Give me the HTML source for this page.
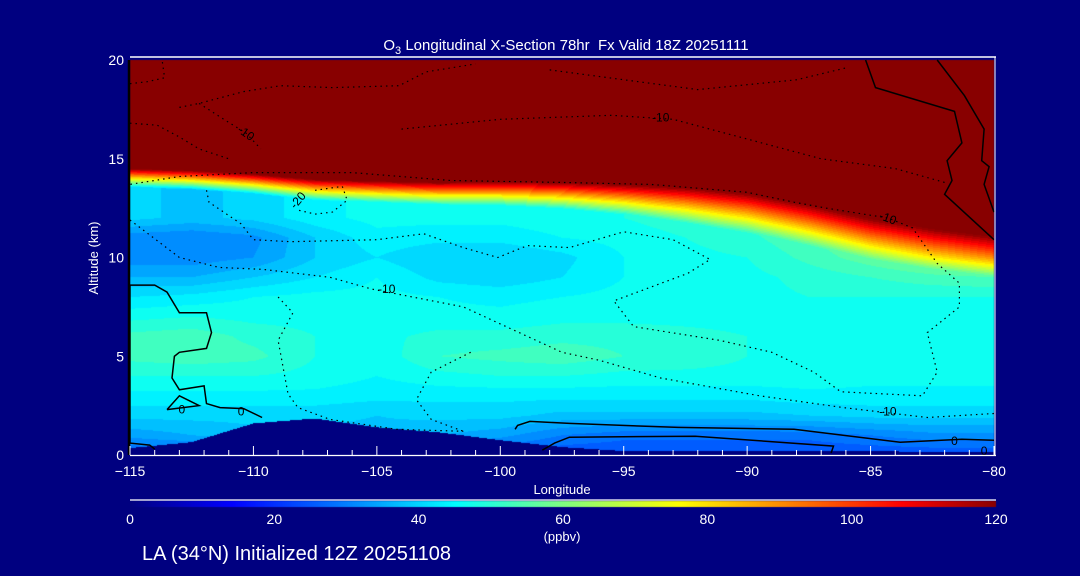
<!DOCTYPE html>
<html><head><meta charset="utf-8"><style>
body{margin:0;background:#000080;width:1080px;height:576px;overflow:hidden;position:relative;font-family:"Liberation Sans",sans-serif;}
canvas,svg{position:absolute;left:0;top:0;}
</style></head><body>
<canvas id="field" width="1080" height="576"></canvas>
<svg id="ov" width="1080" height="576"></svg>
<script>
// ---- data ----
const lons=[-115,-112.5,-110,-107.5,-105,-102.5,-100,-97.5,-95,-92.5,-90,-87.5,-85,-82.5,-80];
const alts=[0,1,2,3,4,5,6,7,8,9,10,11,12];
const grid=[
[26,26,28,30,30,30,26,24,24,24,24,24,24,24,24],
[34,36,38,38,38,36,34,30,28,28,28,28,30,32,32],
[40,40,40,40,39,40,40,38,38,38,38,39,40,40,40],
[44,44,44,44,43,43,43,43,43,43,43,44,44,44,44],
[48,48,48,47,45,47,48,48,47,47,47,47,46,46,46],
[52,53,52,48,46,51,52,53,51,50,48,48,47,46,46],
[52,53,50,48,47,49,49,50,50,49,48,47,47,46,46],
[47,48,47,47,46,46,46,47,47,47,47,47,47,47,47],
[42,43,45,46,46,45,44,45,46,47,47,48,48,48,48],
[36,36,39,42,45,41,40,42,45,47,47,49,51,53,54],
[31,31,33,39,42,39,39,41,45,47,48,52,56,60,62],
[31,30,32,39,44,43,43,45,46,48,50,54,58,62,64],
[40,38,40,44,46,46,46,47,48,50,52,56,60,62,64]];
const tropo=[14.0,13.9,13.7,13.4,13.3,13.2,13.2,13.1,12.9,12.6,12.2,11.6,10.9,10.4,10.0];
const tropoWidth=[1.0,1.0,1.05,1.1,1.15,1.2,1.3,1.4,1.6,1.9,2.1,2.2,2.2,2.2,2.2];
const terrain=[0.35,0.65,1.6,1.85,1.4,1.15,0.75,0.4,0.2,0.2,0.2,0.2,0.2,0.15,0.15];
const cmapVals=[0,14,30,45,60,76,107,120];
const cmapCols=[[0,0,128],[0,0,255],[0,128,255],[0,255,255],[128,255,128],[255,255,0],[255,0,0],[136,0,0]];
const xTicks=[-115,-110,-105,-100,-95,-90,-85,-80];
const yTicks=[0,5,10,15,20];
const cbTicks=[0,20,40,60,80,100,120];
const contoursSolid=[
[[-115,8.6],[-114.0,8.6],[-113.5,8.25],[-113.0,7.2],[-111.9,7.2],[-111.7,6.2],[-111.9,5.4],[-113.0,5.2],[-113.2,5.0],[-113.3,3.9],[-113.0,3.3],[-112.0,3.5],[-111.9,2.6],[-111.35,2.4],[-110.4,2.35],[-109.65,1.9]],
[[-113.5,2.3],[-113.0,3.0],[-112.2,2.5],[-113.5,2.3]],
[[-115,8.6],[-115,0.6],[-114.2,0.5],[-114.0,0.3]],
[[-99.4,1.3],[-99.3,1.5],[-98.8,1.7],[-97.2,1.6],[-92.8,1.4],[-88.1,1.3],[-83.8,0.65],[-81.3,0.8],[-80,0.75]],
[[-98.3,0.25],[-97.8,0.6],[-97.2,0.9],[-92.1,0.95],[-86.5,0.45],[-86.6,0.1]],
[[-85.2,20],[-84.8,18.6],[-81.6,17.4],[-81.3,15.8],[-81.9,14.9],[-81.7,13.9],[-82.0,13.2],[-80,10.9]],
[[-82.3,20],[-81.2,18.2],[-80.4,16.5],[-80.5,14.9],[-80.2,14.6],[-80.4,13.7],[-80,12.3]]];
const contoursDotted=[
[[-115,11.9],[-113.0,10.0],[-111.4,9.5],[-109.6,9.4],[-106.9,9.0],[-105.2,8.4],[-101.5,7.5],[-97.5,5.2],[-96.0,4.8],[-93.5,3.9],[-89.5,3.0],[-86.1,2.4],[-82.7,1.9],[-80.0,2.1]],
[[-111.9,13.4],[-111.8,12.8],[-110.5,11.7],[-110.0,10.9],[-108.5,10.8],[-105.0,10.9],[-103.1,11.2],[-101.5,10.5],[-100.1,10.0],[-98.9,10.6],[-97.2,10.5],[-95.0,11.3],[-93.0,10.9],[-91.5,9.9],[-92.4,9.2],[-95.4,7.8],[-94.6,6.5],[-91.1,5.8],[-89.0,5.2],[-87.3,4.2],[-86.2,3.2],[-82.9,3.0],[-82.3,4.2],[-82.7,6.2],[-81.4,7.5],[-81.4,8.7],[-82.3,9.7],[-83.3,11.5],[-84.3,12.0],[-86.8,12.5],[-88.1,12.8],[-90.0,13.3],[-93.9,13.7],[-97.6,13.8],[-102,13.9],[-106,14.3],[-110,14.3],[-113,14.1],[-115,13.7]],
[[-109.0,8.0],[-108.4,7.2],[-109.0,5.8],[-108.6,3.1],[-108.2,2.4],[-106.9,1.8],[-104.2,1.3],[-101.5,1.2]],
[[-101.2,5.2],[-102.8,4.2],[-103.4,2.8],[-102.8,1.8],[-101.5,1.2]],
[[-115,18.8],[-114.3,18.9],[-113.6,19.1],[-113.7,20]],
[[-113.0,17.6],[-112.2,17.8],[-110.4,18.4],[-108.9,18.7],[-106.8,18.6],[-104.1,18.7],[-103.0,19.4],[-101,19.8]],
[[-112.2,17.8],[-111.2,17.0],[-110.3,16.3],[-109.7,15.5]],
[[-115,16.8],[-113.9,16.7],[-113.0,16.1],[-112.2,15.5],[-111,15.0]],
[[-107.5,13.4],[-106.4,13.6],[-106.2,12.9],[-106.8,12.3],[-107.5,12.2],[-108.2,12.4]],
[[-104,16.5],[-100,17.0],[-95.5,17.2],[-93,17.0],[-90,16.0],[-87,15.0],[-84,14.5],[-82,13.8]],
[[-98,19.5],[-92,18.5],[-88,19.0],[-86,19.6]]];
const contourLabels=[["-10",-110.3,16.3,35],["-10",-93.5,17.1,0],["-20",-108.2,12.9,-50],["-10",-104.6,8.4,0],["-10",-84.3,12.0,20],["-10",-84.3,2.2,0],["0",-112.9,2.3,0],["0",-110.5,2.2,0],["0",-81.6,0.7,0],["0",-80.4,0.2,0]];
// ---- scales ----
const X0=130,X1=994,Y0=455,Y1=60;
const xs=l=>X0+(l+115)/35*(X1-X0);
const ys=a=>Y0-a/20*(Y0-Y1);
function cmap(v){v=Math.max(0,Math.min(120,v));
 for(let i=0;i<cmapVals.length-1;i++){if(v<=cmapVals[i+1]){const t=(v-cmapVals[i])/(cmapVals[i+1]-cmapVals[i]);
 return cmapCols[i].map((c,k)=>Math.round(c+(cmapCols[i+1][k]-c)*t));}}return cmapCols[7];}
function lerpArr(arr,l){const f=(l+115)/2.5;let i=Math.floor(f);if(i>=arr.length-1)i=arr.length-2;if(i<0)i=0;const t=f-i;return arr[i]*(1-t)+arr[i+1]*t;}
function baseVal(l,a){const f=(l+115)/2.5;let i=Math.min(Math.max(Math.floor(f),0),lons.length-2);const tx=f-i;
 let aa=Math.min(a,12);let j=Math.min(Math.floor(aa),11);const ty=aa-j;
 const v0=grid[j][i]*(1-tx)+grid[j][i+1]*tx,v1=grid[j+1][i]*(1-tx)+grid[j+1][i+1]*tx;return v0*(1-ty)+v1*ty;}
// ---- field ----
const cv=document.getElementById('field'),ctx=cv.getContext('2d');
ctx.fillStyle='#000080';ctx.fillRect(0,0,1080,576);
const W=X1-X0,H=Y0-Y1,img=ctx.createImageData(W,H);
for(let px=0;px<W;px++){const l=-115+(px+0.5)/W*35;const tp=lerpArr(tropo,l),tw=lerpArr(tropoWidth,l),tr=lerpArr(terrain,l);
 for(let py=0;py<H;py++){const a=20-(py+0.5)/H*20;let col;
  if(a<tr){col=[0,0,128];}else{const b=baseVal(l,a);let t=(a-tp+0.45*tw)/tw;t=Math.max(0,Math.min(1,t));let v=b+(125-b)*t;
   v=Math.floor(v/3)*3+1.5;col=cmap(v);}
  const k=(py*W+px)*4;img.data[k]=col[0];img.data[k+1]=col[1];img.data[k+2]=col[2];img.data[k+3]=255;}}
ctx.putImageData(img,X0,Y1);
// colorbar
for(let px=0;px<866;px++){const c=cmap(px/866*120);ctx.fillStyle=`rgb(${c[0]},${c[1]},${c[2]})`;ctx.fillRect(130+px,501,1,6);}
// ---- overlay ----
const NS='http://www.w3.org/2000/svg',ov=document.getElementById('ov');
function mk(tag,attrs,parent){const e=document.createElementNS(NS,tag);for(const k in attrs)e.setAttribute(k,attrs[k]);(parent||ov).appendChild(e);return e;}
function txt(s,x,y,size,anchor,name){const e=mk('text',{x:x,y:y,fill:'#fff','font-size':size,'text-anchor':anchor||'middle','font-family':'Liberation Sans, sans-serif'});e.textContent=s;
 
 return e;}
const pts=c=>c.map(p=>xs(p[0]).toFixed(1)+','+ys(p[1]).toFixed(1)).join(' ');
contoursSolid.forEach(c=>{const e=mk('polyline',{points:pts(c),fill:'none',stroke:'#000','stroke-width':1.5});
 
 });
contoursDotted.forEach(c=>{const e=mk('polyline',{points:pts(c),fill:'none',stroke:'#000','stroke-width':1.2,'stroke-dasharray':'1.5 4'});
 
 });
contourLabels.forEach(d=>{const e=txt(d[0],xs(d[1]),ys(d[2])+4,12,'middle','contour-label');e.setAttribute('fill','#000');
 e.setAttribute('transform',`rotate(${d[3]} ${xs(d[1])} ${ys(d[2])})`);});
// frame
let e=mk('line',{x1:X0,y1:57,x2:996,y2:57,stroke:'#fff','stroke-width':1.5});


e=mk('line',{x1:995,y1:57,x2:995,y2:455,stroke:'#fff','stroke-width':1});


e=mk('line',{x1:X0,y1:Y0+0.5,x2:996,y2:Y0+0.5,stroke:'#fff','stroke-width':1.2});


e=mk('line',{x1:X0-1,y1:Y1,x2:X0-1,y2:Y0,stroke:'#000','stroke-width':2.5});


for(let l=-115;l<=-80;l++){const maj=(l%5===0);e=mk('line',{x1:xs(l),y1:Y0,x2:xs(l),y2:Y0-(maj?9:5),stroke:'#fff','stroke-width':1});
 
 }
xTicks.forEach(l=>txt('\u2212'+Math.abs(l),xs(l),476,14,'middle','x-tick-label'));
yTicks.forEach(a=>txt(String(a),124,ys(a)+5,14,'end','y-tick-label'));
txt('Longitude',562,494,13,'middle','x-axis-title');
e=txt('Altitude (km)',98,258,13,'middle','y-axis-title');e.setAttribute('transform','rotate(-90 98 258)');
e=txt('',566,50,15,'middle','chart-title');
e.innerHTML='O<tspan font-size="11" dy="4">3</tspan><tspan dy="-4"> Longitudinal X-Section 78hr\u00a0\u00a0Fx Valid 18Z 20251111</tspan>';
e=mk('line',{x1:130,y1:500,x2:996,y2:500,stroke:'#fff','stroke-width':1.2});


cbTicks.forEach(v=>txt(String(v),130+v/120*866,524,14,'middle','colorbar-tick-label'));
txt('(ppbv)',562,541,13,'middle','colorbar-units');
txt('LA (34\u00b0N) Initialized 12Z 20251108',142,560,20,'start','footer-caption');
</script>
</body></html>
